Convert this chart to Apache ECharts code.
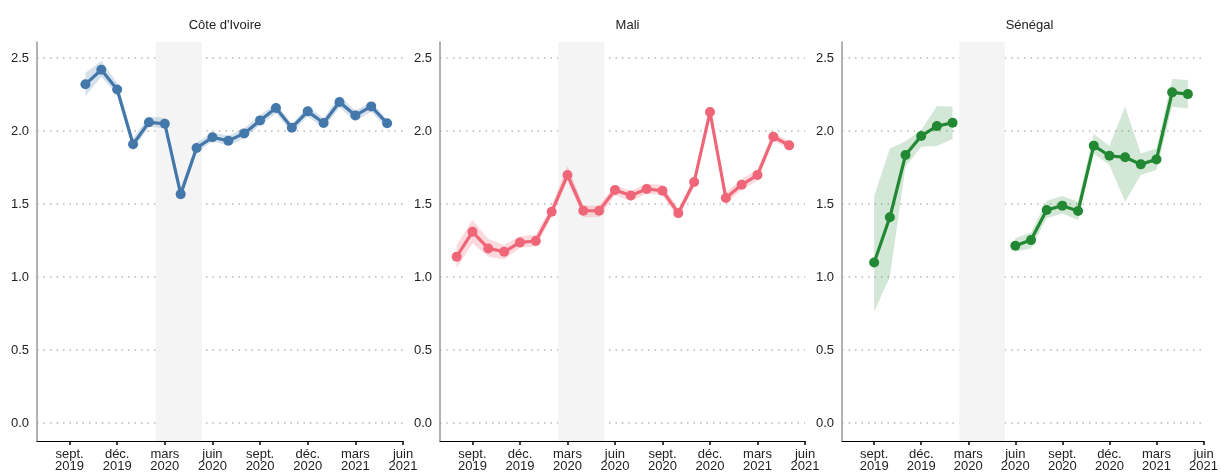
<!DOCTYPE html>
<html><head><meta charset="utf-8">
<script src="https://cdn.jsdelivr.net/npm/echarts@6/dist/echarts.min.js"></script>
<style>html,body{margin:0;padding:0;background:#fff}#c{width:1221px;height:474px}</style>
</head><body><div id="c"></div>
<script>
// ---- data ----
const panelTitles = ["Côte d'Ivoire", "Mali", "Sénégal"];
const tickMonths = ['2019-09','2019-12','2020-03','2020-06','2020-09','2020-12','2021-03','2021-06'];
const tickLabels = ['sept.\n2019','déc.\n2019','mars\n2020','juin\n2020','sept.\n2020','déc.\n2020','mars\n2021','juin\n2021'];
const shadeStart = '2020-02-14';
const shadeEnd = '2020-05-11';

const ciMonths = ['2019-10','2019-11','2019-12','2020-01','2020-02','2020-03','2020-04','2020-05','2020-06','2020-07','2020-08','2020-09','2020-10','2020-11','2020-12','2021-01','2021-02','2021-03','2021-04','2021-05'];
const ciValue = [2.32,2.42,2.285,1.91,2.06,2.05,1.568,1.884,1.957,1.934,1.984,2.073,2.158,2.023,2.135,2.055,2.199,2.107,2.169,2.053];
const ciLow   = [2.24,2.37,2.25,1.87,2.03,2.02,1.53,1.85,1.93,1.90,1.95,2.04,2.12,1.99,2.10,2.02,2.16,2.07,2.13,2.02];
const ciHigh  = [2.40,2.48,2.33,1.95,2.10,2.09,1.61,1.92,1.99,1.97,2.02,2.11,2.19,2.05,2.17,2.09,2.24,2.14,2.20,2.08];

const mlMonths = ['2019-08','2019-09','2019-10','2019-11','2019-12','2020-01','2020-02','2020-03','2020-04','2020-05','2020-06','2020-07','2020-08','2020-09','2020-10','2020-11','2020-12','2021-01','2021-02','2021-03','2021-04','2021-05'];
const mlValue = [1.139,1.31,1.196,1.173,1.237,1.247,1.447,1.699,1.454,1.454,1.596,1.559,1.603,1.591,1.438,1.651,2.13,1.541,1.632,1.699,1.961,1.902];
const mlLow   = [1.06,1.23,1.14,1.12,1.20,1.21,1.41,1.66,1.41,1.41,1.56,1.52,1.57,1.56,1.40,1.62,2.11,1.50,1.60,1.66,1.93,1.88];
const mlHigh  = [1.22,1.39,1.26,1.22,1.28,1.29,1.49,1.76,1.49,1.49,1.63,1.59,1.64,1.63,1.47,1.68,2.15,1.58,1.67,1.74,1.99,1.93];

const snMonths = ['2019-09','2019-10','2019-11','2019-12','2020-01','2020-02','2020-03','2020-04','2020-05','2020-06','2020-07','2020-08','2020-09','2020-10','2020-11','2020-12','2021-01','2021-02','2021-03','2021-04','2021-05'];
const snValue = [1.10,1.409,1.836,1.966,2.034,2.057,null,null,null,1.215,1.253,1.459,1.489,1.452,1.90,1.831,1.82,1.772,1.806,2.265,2.253];
const snLow   = [0.762,1.002,1.755,1.893,1.897,1.945,null,null,null,1.173,1.196,1.402,1.436,1.39,1.847,1.767,1.516,1.699,1.733,2.167,2.155];
const snHigh  = [1.555,1.88,1.93,2.007,2.171,2.167,null,null,null,1.265,1.306,1.523,1.555,1.516,1.979,1.897,2.167,1.847,1.88,2.356,2.349];

const yTicks = [0, 0.5, 1.0, 1.5, 2.0, 2.5];

// ---- helpers ----
function monthIndex(s) { // months since 2019-01-01
  const p = s.split('-').map(Number);
  let v = (p[0] - 2019) * 12 + (p[1] - 1);
  if (p[2]) v += (p[2] - 1) / 30.4;
  return v;
}
const tickIdx = tickMonths.map(monthIndex);
const labelMap = {};
tickIdx.forEach((v, i) => labelMap[v] = tickLabels[i]);

const colors = ['#4477AA', '#EE6677', '#228833'];
const bandColors = ['rgba(68,119,170,0.22)', 'rgba(238,102,119,0.25)', 'rgba(34,136,51,0.2)'];
const panels = [
  {months: ciMonths, val: ciValue, lo: ciLow, hi: ciHigh},
  {months: mlMonths, val: mlValue, lo: mlLow, hi: mlHigh},
  {months: snMonths, val: snValue, lo: snLow, hi: snHigh}
];
const gridLeft = [37, 440, 842];
const gridWidth = [366, 365, 365];

const grids = [], xAxes = [], yAxes = [], series = [], titles = [];
panels.forEach((p, g) => {
  grids.push({left: gridLeft[g], width: gridWidth[g], top: 42, height: 399});
  titles.push({text: panelTitles[g], left: gridLeft[g] + gridWidth[g] / 2, top: 14, textAlign: 'center',
    textStyle: {fontFamily: 'Liberation Sans', fontSize: 13, fontWeight: 'normal', color: '#222'}});
  xAxes.push({gridIndex: g, type: 'value', min: 5.95, max: 29,
    axisLine: {show: true, onZero: false, lineStyle: {color: '#000', width: 1}},
    axisTick: {show: true, customValues: tickIdx, length: 4, lineStyle: {color: '#000', width: 1.5}},
    axisLabel: {customValues: tickIdx, formatter: v => labelMap[v] || '', margin: 7,
      fontFamily: 'Liberation Sans', fontSize: 13, lineHeight: 12, color: '#222'},
    splitLine: {show: false}});
  yAxes.push({gridIndex: g, type: 'value', min: -0.123, max: 2.61,
    axisLine: {show: true, lineStyle: {color: '#999', width: 1.5}},
    axisTick: {show: false, customValues: yTicks},
    axisLabel: {customValues: yTicks, formatter: v => v.toFixed(1), margin: 8,
      fontFamily: 'Liberation Sans', fontSize: 13, color: '#222'},
    splitLine: {show: true, lineStyle: {color: '#bbb', type: [1.5, 5], width: 1.5}}});
  const xs = p.months.map(monthIndex);
  // segments for band
  const segs = []; let cur = [];
  p.lo.forEach((v, i) => { if (v == null) { if (cur.length) segs.push(cur); cur = []; } else cur.push(i); });
  if (cur.length) segs.push(cur);
  series.push({type: 'custom', xAxisIndex: g, yAxisIndex: g, silent: true, z: 3,
    data: segs.map(s => [xs[s[0]], p.lo[s[0]]]),
    encode: {x: 0, y: 1},
    renderItem: (params, api) => {
      const seg = segs[params.dataIndex];
      const pts = seg.map(i => api.coord([xs[i], p.hi[i]]))
        .concat(seg.slice().reverse().map(i => api.coord([xs[i], p.lo[i]])));
      return {type: 'polygon', shape: {points: pts}, style: {fill: bandColors[g]}};
    }});
  series.push({type: 'line', xAxisIndex: g, yAxisIndex: g, z: 4,
    data: xs.map((x, i) => [x, p.val[i] == null ? '-' : p.val[i]]),
    connectNulls: false, symbol: 'circle', symbolSize: 10, showSymbol: true,
    lineStyle: {color: colors[g], width: 3.2}, itemStyle: {color: colors[g]},
    markArea: {silent: true, itemStyle: {color: '#f4f4f4'},
      data: [[{xAxis: monthIndex(shadeStart)}, {xAxis: monthIndex(shadeEnd)}]]}});
});

const chart = echarts.init(document.getElementById('c'), null, {renderer: 'canvas'});
chart.setOption({animation: false, backgroundColor: '#fff', title: titles,
  grid: grids, xAxis: xAxes, yAxis: yAxes, series: series});
</script></body></html>
